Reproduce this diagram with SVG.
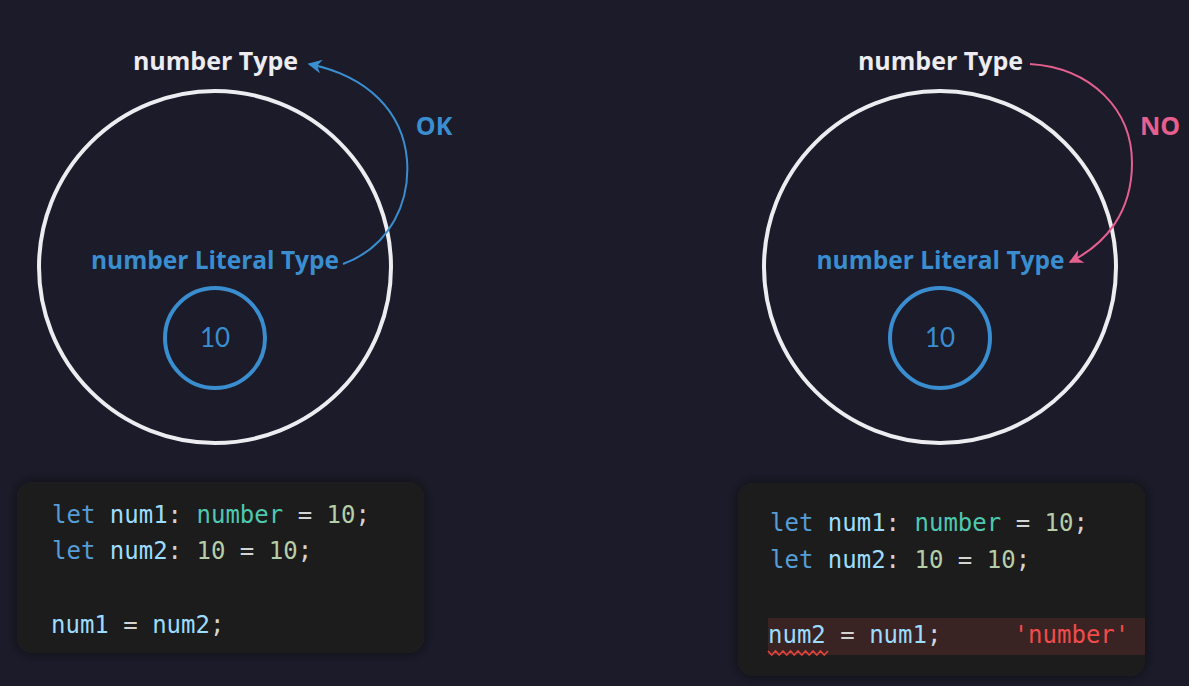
<svg xmlns="http://www.w3.org/2000/svg" width="1189" height="686" viewBox="0 0 1189 686">
<defs>
<style>
.bg{fill:#1b1b29}
.outer{fill:none;stroke:#ececf1;stroke-width:4}
.inner{fill:none;stroke:#3a8ed0;stroke-width:4}
.title{font-family:"Open Sans","DejaVu Sans",sans-serif;font-weight:700;font-size:25px;text-anchor:middle}
.lit{font-size:24.5px}
.white{fill:#ececf1}
.blue{fill:#3a8ed0}
.pink{fill:#e5608f}
.val{font-family:Lato,"Open Sans",sans-serif;font-weight:400;font-size:26px;text-anchor:middle;fill:#3a8ed0}
.box{fill:#1f1f1f}
.code{font-family:"DejaVu Sans Mono","Liberation Mono",monospace;font-size:24px;white-space:pre}
.kw{fill:#569cd6}
.var{fill:#9cdcfe}
.pn{fill:#d4d4d4}
.ty{fill:#4ec9b0}
.num{fill:#b5cea8}
.err{fill:#f14c4c}
</style>
<marker id="ahBlue" viewBox="0 0 10 10" refX="9" refY="5" markerWidth="16" markerHeight="14" markerUnits="userSpaceOnUse" orient="auto">
<path d="M0,0 L10,5 L0,10 L3,5 z" fill="#3a8ed0"/>
</marker>
<marker id="ahPink" viewBox="0 0 10 10" refX="9" refY="5" markerWidth="16" markerHeight="14" markerUnits="userSpaceOnUse" orient="auto">
<path d="M0,0 L10,5 L0,10 L3,5 z" fill="#e5608f"/>
</marker>
<filter id="sh" x="-10%" y="-20%" width="120%" height="140%">
<feGaussianBlur in="SourceAlpha" stdDeviation="6"/>
<feComponentTransfer><feFuncA type="linear" slope="0.5"/></feComponentTransfer>
<feMerge><feMergeNode/><feMergeNode in="SourceGraphic"/></feMerge>
</filter>
</defs>
<rect class="bg" x="0" y="0" width="1189" height="686"/>

<g id="left-number-type">
<circle class="outer" cx="215" cy="267" r="176"/>
<text class="title white" x="215.5" y="70">number Type</text>
</g>
<g id="left-literal-type">
<text class="title lit blue" x="215" y="269">number Literal Type</text>
</g>
<g id="left-literal-10">
<circle class="inner" cx="215" cy="338" r="50"/>
<text class="val" x="215" y="347">10</text>
</g>

<g id="right-number-type">
<circle class="outer" cx="940" cy="267" r="176"/>
<text class="title white" x="940.5" y="70">number Type</text>
</g>
<g id="right-literal-type">
<text class="title lit blue" x="940.5" y="269">number Literal Type</text>
</g>
<g id="right-literal-10">
<circle class="inner" cx="940" cy="338" r="50"/>
<text class="val" x="940" y="347">10</text>
</g>

<g id="connectors">
<path d="M343,264 C392,246 410,200 407,160 C403,112 368,76 309,64" fill="none" stroke="#3a8ed0" stroke-width="2" marker-end="url(#ahBlue)"/>
<text class="title blue" x="434" y="135">OK</text>
<path d="M1030,64 C1092,68 1132,110 1132,163 C1132,212 1106,244 1070,262" fill="none" stroke="#e5608f" stroke-width="2" marker-end="url(#ahPink)"/>
<text class="title pink" x="1160" y="135">NO</text>
</g>

<g id="left-code">
<rect class="box" x="17" y="482" width="407" height="171" rx="15" filter="url(#sh)"/>
<text class="code" x="52" y="523"><tspan class="kw">let</tspan><tspan class="pn"> </tspan><tspan class="var">num1</tspan><tspan class="pn">: </tspan><tspan class="ty">number</tspan><tspan class="pn"> = </tspan><tspan class="num">10</tspan><tspan class="pn">;</tspan></text>
<text class="code" x="52" y="559"><tspan class="kw">let</tspan><tspan class="pn"> </tspan><tspan class="var">num2</tspan><tspan class="pn">: </tspan><tspan class="num">10</tspan><tspan class="pn"> = </tspan><tspan class="num">10</tspan><tspan class="pn">;</tspan></text>
<text class="code" x="51" y="633"><tspan class="var">num1</tspan><tspan class="pn"> = </tspan><tspan class="var">num2</tspan><tspan class="pn">;</tspan></text>
</g>

<g id="right-code">
<rect class="box" x="738" y="483" width="407" height="193" rx="15" filter="url(#sh)"/>
<rect x="768" y="618" width="377" height="37" fill="#3a2323"/>
<text class="code" x="770" y="531"><tspan class="kw">let</tspan><tspan class="pn"> </tspan><tspan class="var">num1</tspan><tspan class="pn">: </tspan><tspan class="ty">number</tspan><tspan class="pn"> = </tspan><tspan class="num">10</tspan><tspan class="pn">;</tspan></text>
<text class="code" x="770" y="568"><tspan class="kw">let</tspan><tspan class="pn"> </tspan><tspan class="var">num2</tspan><tspan class="pn">: </tspan><tspan class="num">10</tspan><tspan class="pn"> = </tspan><tspan class="num">10</tspan><tspan class="pn">;</tspan></text>
<text class="code" x="768" y="643"><tspan class="var">num2</tspan><tspan class="pn"> = </tspan><tspan class="var">num1</tspan><tspan class="pn">;     </tspan><tspan class="err">'number'</tspan></text>
<path d="M768,651 l3.75,4 l3.75,-4 l3.75,4 l3.75,-4 l3.75,4 l3.75,-4 l3.75,4 l3.75,-4 l3.75,4 l3.75,-4 l3.75,4 l3.75,-4 l3.75,4 l3.75,-4 l3.75,4 l3.75,-4" fill="none" stroke="#e0443f" stroke-width="1.6"/>
</g>
</svg>
